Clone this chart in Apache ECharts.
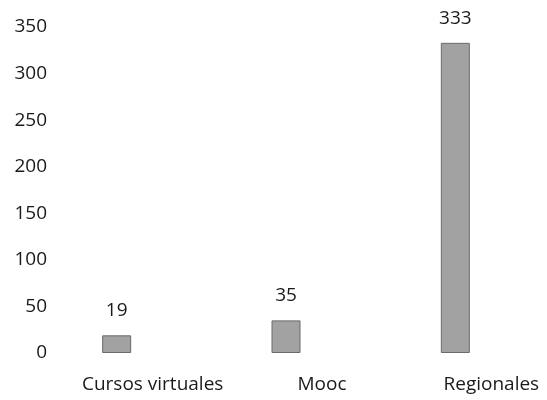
<!DOCTYPE html>
<html>
<head>
<meta charset="utf-8">
<script src="https://cdn.jsdelivr.net/npm/echarts@6/dist/echarts.min.js"></script>
<style>html,body{margin:0;padding:0;background:#fff;}#c{width:547px;height:400px;}</style>
</head>
<body>
<div id="c"></div>
<script>
var categories = ['Cursos virtuales', 'Mooc', 'Regionales'];
var values = [19, 35, 333];
var yTicks = [0, 50, 100, 150, 200, 250, 300, 350];

var chart = echarts.init(document.getElementById('c'), null, {renderer: 'canvas'});
chart.setOption({
  animation: false,
  backgroundColor: '#ffffff',
  grid: {left: 32, right: 7, top: 27, bottom: 47},
  xAxis: {
    type: 'category',
    data: categories,
    axisLine: {show: false},
    axisTick: {show: false},
    axisLabel: {interval: 0, hideOverlap: false, color: '#1a1a1a', fontFamily: 'Open Sans', fontSize: 19, margin: 22, padding: [0, 0, 0, 72]}
  },
  yAxis: {
    type: 'value',
    min: yTicks[0],
    max: yTicks[yTicks.length - 1],
    interval: 50,
    axisLine: {show: false},
    axisTick: {show: false},
    splitLine: {show: false},
    axisLabel: {color: '#1a1a1a', fontFamily: 'Open Sans', fontSize: 19, margin: -15}
  },
  series: [{
    type: 'bar',
    data: values,
    barWidth: 29,
    itemStyle: {color: '#a2a2a2', borderColor: '#6a6a6a', borderWidth: 1},
    label: {show: true, position: 'top', distance: 15, color: '#1a1a1a', fontFamily: 'Open Sans', fontSize: 19}
  }]
});
</script>
</body>
</html>
